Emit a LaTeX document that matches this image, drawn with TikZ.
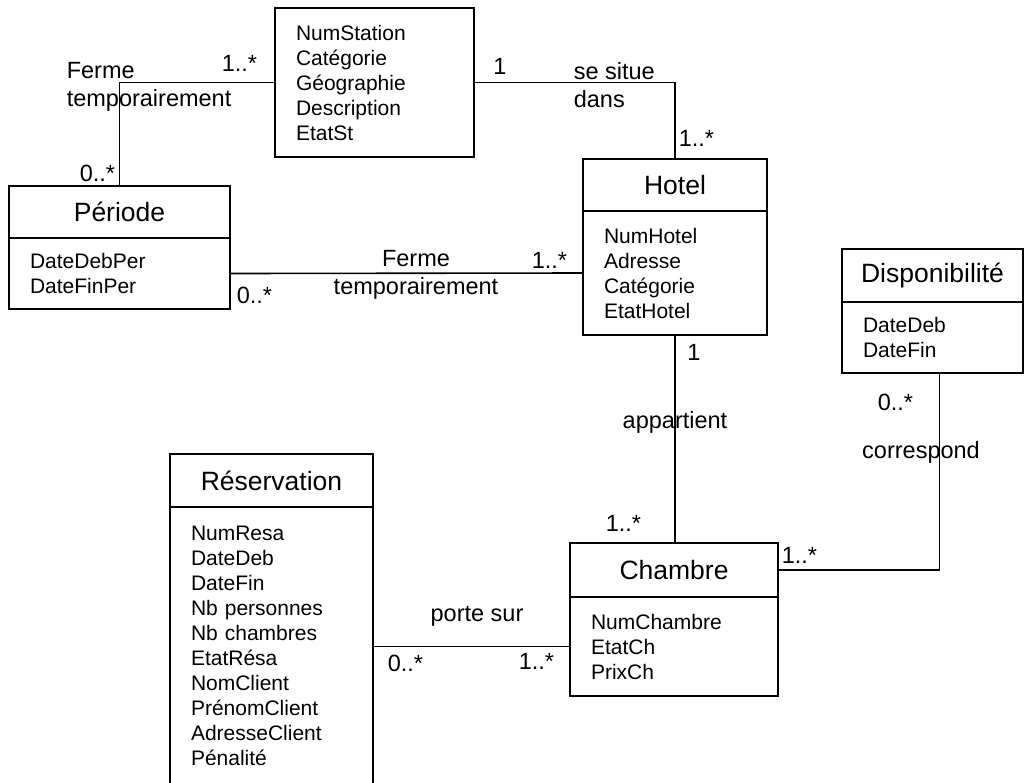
\documentclass[tikz,border=0pt]{standalone}
\usepackage{fontspec}
\setmainfont{Liberation Sans}
\usepackage{tikz}
\usetikzlibrary{positioning}
\newcommand{\titlefont}{\fontsize{26.5}{30}\selectfont}
\newcommand{\attrfont}{\fontsize{21}{25}\selectfont}
\newcommand{\lblfont}{\fontsize{23.5}{28}\selectfont}

\begin{document}
\begin{tikzpicture}[x=1pt, y=-1pt, line width=1.6pt,
        classtitle/.style={draw, rectangle, font=\titlefont, inner sep=0pt, outer sep=0pt},
        classattr/.style={draw, rectangle, font=\attrfont, align=left, inner xsep=21pt, inner ysep=0pt, outer sep=0pt},
        lbl/.style={font=\lblfont, inner sep=0pt}]
        \useasboundingbox (0,0) rectangle (1024,782);

        % Station
        \node[classattr, anchor=north west, text width=157pt, minimum height=149pt] (station) at (275,8)
            {NumStation\\Catégorie\\Géographie\\Description\\EtatSt};

        % Période
        \node[classtitle, anchor=north west, minimum width=221pt, minimum height=52pt] (periodeT) at (9,186) {Période};
        \node[classattr, below=0pt of periodeT, text width=179pt, minimum height=71pt] (periodeA) {DateDebPer\\DateFinPer};

        % Hotel
        \node[classtitle, anchor=north west, minimum width=184pt, minimum height=52pt] (hotelT) at (583,159) {Hotel};
        \node[classattr, below=0pt of hotelT, text width=142pt, minimum height=124pt] (hotelA) {NumHotel\\Adresse\\Catégorie\\EtatHotel};

        % Disponibilité
        \node[classtitle, anchor=north west, minimum width=181pt, minimum height=53pt] (dispoT) at (842,249) {Disponibilité};
        \node[classattr, below=0pt of dispoT, text width=139pt, minimum height=71pt] (dispoA) {DateDeb\\DateFin};

        % Réservation
        \node[classtitle, anchor=north west, minimum width=203pt, minimum height=53pt] (resaT) at (170,454) {Réservation};
        \node[classattr, below=0pt of resaT, text width=161pt, minimum height=277pt] (resaA)
            {NumResa\\DateDeb\\DateFin\\Nb personnes\\Nb chambres\\EtatRésa\\NomClient\\PrénomClient\\AdresseClient\\Pénalité};

        % Chambre
        \node[classtitle, anchor=north west, minimum width=208pt, minimum height=54pt] (chambreT) at (570,543) {Chambre};
        \node[classattr, below=0pt of chambreT, text width=166pt, minimum height=99pt] (chambreA) {NumChambre\\EtatCh\\PrixCh};

        % Associations
        \draw (station.west) -| (periodeT.north);
        \draw (station.east) -| (hotelT.north);
        \draw (periodeA.east) -- (hotelA.west);
        \draw (hotelA.south) -- (hotelA.south |- chambreT.north);
        \draw ([xshift=7pt]dispoA.south) |- (chambreT.east);
        \draw (chambreA.west) -- (resaA.east |- chambreA.west);

        % Noms des associations
        \node[lbl, anchor=west, align=left] (ferme1) at (66,87) {Ferme\\temporairement};
        \node[lbl, anchor=west, align=left] (situe) at (573,85) {se situe\\dans};
        \node[lbl, align=center] (ferme2) at (416,275) {Ferme\\temporairement};
        \node[lbl] (appartient) at (675,422) {appartient};
        \node[lbl] (correspond) at (921,452) {correspond};
        \node[lbl] (portesur) at (477,616) {porte sur};

        % Multiplicités
        \node[lbl, anchor=west] (m1) at (221,63) {1..*};
        \node[lbl, anchor=west] (m2) at (79,173) {0..*};
        \node[lbl] (m3) at (500,66) {1};
        \node[lbl, anchor=west] (m4) at (678,138) {1..*};
        \node[lbl, anchor=west] (m5) at (531,260) {1..*};
        \node[lbl, anchor=west] (m6) at (236,295) {0..*};
        \node[lbl] (m7) at (694,352) {1};
        \node[lbl, anchor=west] (m8) at (605,523) {1..*};
        \node[lbl, anchor=west] (m9) at (877,402) {0..*};
        \node[lbl, anchor=west] (m10) at (781,555) {1..*};
        \node[lbl, anchor=west] (m11) at (387,663) {0..*};
        \node[lbl, anchor=west] (m12) at (518,661) {1..*};
\end{tikzpicture}
\end{document}
